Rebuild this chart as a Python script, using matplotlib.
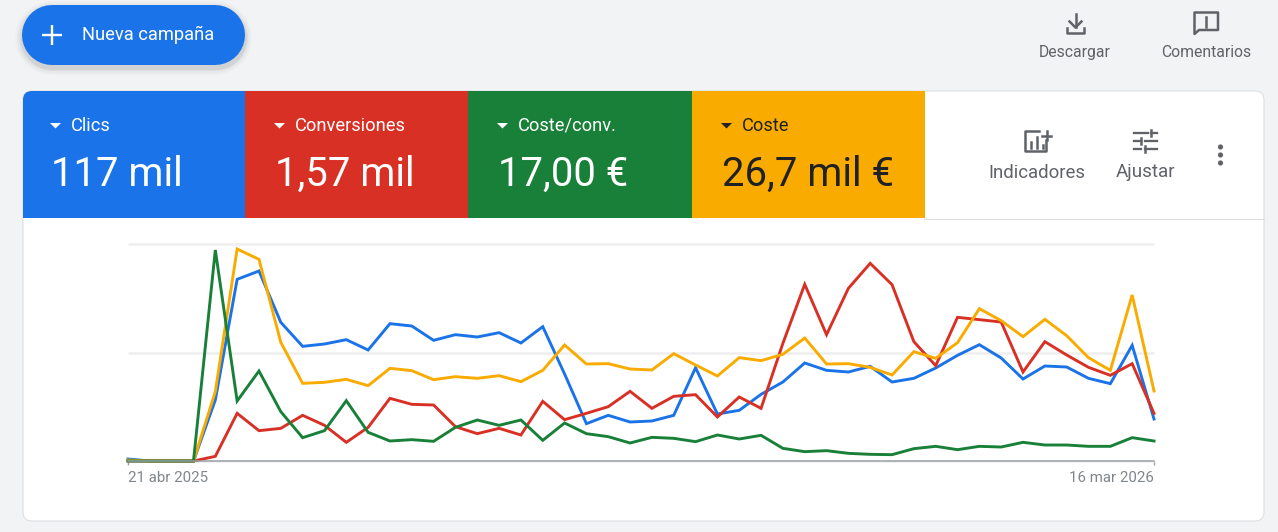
import matplotlib
matplotlib.use('Agg')
import matplotlib.pyplot as plt
from matplotlib.patches import FancyBboxPatch, Rectangle, Circle, Polygon

W, H = 1278, 532

# Weekly series, no y scale on the chart so values are relative heights
clics = [6, 0, 0, 0, 183, 545, 570, 416, 344, 351, 364, 333, 412, 405, 362, 379,
         372, 385, 354, 403, 261, 112, 137, 117, 120, 137, 280, 141, 152, 200, 237, 294,
         272, 267, 284, 237, 248, 279, 317, 349, 309, 246, 285, 282, 248, 232, 347, 126]
conversiones = [0, 0, 0, 0, 14, 143, 91, 98, 137, 107, 56, 101, 188, 170, 168, 103,
                82, 98, 78, 179, 124, 143, 163, 209, 158, 194, 199, 132, 192, 158, 353, 530,
                379, 518, 593, 529, 358, 286, 431, 424, 417, 267, 358, 318, 281, 257, 292, 143]
coste = [3, 0, 0, 0, 208, 636, 605, 356, 233, 236, 245, 226, 278, 271, 244, 253,
         248, 256, 238, 272, 348, 291, 292, 276, 273, 322, 288, 255, 310, 301, 320, 369,
         291, 292, 281, 258, 328, 308, 355, 457, 421, 373, 425, 376, 310, 272, 498, 210]
coste_conv = [0, 0, 0, 0, 633, 180, 270, 148, 70, 91, 181, 86, 60, 64, 59, 101,
              123, 107, 123, 62, 114, 82, 73, 54, 71, 68, 58, 78, 66, 77, 38, 28,
              31, 23, 20, 19, 37, 44, 34, 44, 42, 56, 48, 48, 44, 44, 70, 60]

tile_names = ['Clics', 'Conversiones', 'Coste/conv.', 'Coste']
tile_values = ['117 mil', '1,57 mil', '17,00 €', '26,7 mil €']
x_labels = ['21 abr 2025', '16 mar 2026']
y_ticks = [0, 325.5, 651]

BLUE, RED, GREEN, YELLOW = '#1a73e8', '#d93025', '#188038', '#f9ab00'
GREY = '#5f6368'
BG = '#f1f3f5'

plt.rcParams['font.family'] = ['Roboto', 'DejaVu Sans']


def pt(px):
    return px * 72 / 100


fig = plt.figure(figsize=(W / 100, H / 100), dpi=100, facecolor=BG)

# UI layer in pixel coordinates
ui = fig.add_axes([0, 0, 1, 1])
ui.set_xlim(0, W)
ui.set_ylim(H, 0)
ui.axis('off')

# ── button ──
for grow, a in [(14, 0.025), (10, 0.035), (6, 0.05), (3, 0.07)]:
    ui.plot([52, 215], [38, 38], color='#3c4043', alpha=a, lw=pt(60 + grow),
            solid_capstyle='round')
ui.plot([52, 215], [35, 35], color=BLUE, lw=pt(60), solid_capstyle='round')
ui.plot([42, 62], [35, 35], color='white', lw=pt(2.4), solid_capstyle='butt')
ui.plot([52, 52], [25, 45], color='white', lw=pt(2.4), solid_capstyle='butt')
ui.text(82, 34.5, 'Nueva campaña', color='white', fontsize=pt(18.3),
        va='center', ha='left')

# ── top right icons ──
ui.plot([1075.5, 1075.5], [14, 27], color=GREY, lw=pt(2.5))
ui.plot([1069.5, 1075.5, 1081.5], [21.5, 27.5, 21.5], color=GREY, lw=pt(2.5))
ui.plot([1067, 1067, 1084, 1084], [28, 32.5, 32.5, 28], color=GREY, lw=pt(2.5), solid_joinstyle='round')
ui.add_patch(Polygon([(1194.5, 12.5), (1218, 12.5), (1218, 30), (1199, 30), (1194.5, 34)],
                     closed=True, fc='none', ec=GREY, lw=pt(2.5), joinstyle='round'))
ui.plot([1206, 1206], [17, 22.5], color=GREY, lw=pt(2.5))
ui.plot([1206, 1206], [24.5, 27], color=GREY, lw=pt(2.5))
ui.text(1075, 52.5, 'Descargar', color=GREY, fontsize=pt(15.7), ha='center', va='center')
ui.text(1206, 52.5, 'Comentarios', color=GREY, fontsize=pt(15.7), ha='center', va='center')

# ── card ──
card = FancyBboxPatch((23, 91), 1241, 430, boxstyle='round,pad=0,rounding_size=9',
                      fc='white', ec='#dadce0', lw=pt(1))
ui.add_patch(card)

tile_edges = [23, 245, 468, 692, 924.5]
tile_origin = [22, 246, 469, 693]
tile_colors = [BLUE, RED, GREEN, YELLOW]
tile_text = ['white', 'white', 'white', '#202124']
for i, name in enumerate(tile_names):
    x0, x1 = tile_edges[i], tile_edges[i + 1]
    r = Rectangle((x0, 91), x1 - x0, 127, fc=tile_colors[i], ec='none')
    ui.add_patch(r)
    r.set_clip_path(card)
    c = tile_text[i]
    t0 = tile_origin[i]
    ui.add_patch(Polygon([(t0 + 28, 123), (t0 + 39, 123), (t0 + 33.5, 128.5)], closed=True, fc=c, ec='none'))
    ui.text(t0 + 49, 126, name, color=c, fontsize=pt(18.3), ha='left', va='center')
    ui.text(t0 + 29, 174, tile_values[i], color=c, fontsize=pt(40), ha='left', va='center')
ui.plot([924, 1264], [218.5, 218.5], color='#dadce0', lw=pt(1))

# ── right side controls ──
ui.plot([1039, 1025, 1025, 1045.5, 1045.5], [131, 131, 151, 151, 140],
        color=GREY, lw=pt(2.5), solid_joinstyle='round')
ui.plot([1031, 1031], [142, 148], color=GREY, lw=pt(2.5))
ui.plot([1037, 1037], [137, 148], color=GREY, lw=pt(2.5))
ui.plot([1043, 1043], [145, 148], color=GREY, lw=pt(2.5))
ui.plot([1042, 1051], [135.5, 135.5], color=GREY, lw=pt(2.5))
ui.plot([1046.5, 1046.5], [131, 140], color=GREY, lw=pt(2.5))
ui.text(1037, 173, 'Indicadores', color=GREY, fontsize=pt(18.7), ha='center', va='center')

slider_rows = [(133, 1134, 1148, 1151, 1157), (141, 1134, 1141, 1145, 1157), (148.5, 1134, 1141, 1145, 1157)]
for y, a0, a1, b0, b1 in slider_rows:
    ui.plot([a0, a1], [y, y], color=GREY, lw=pt(2.3))
    ui.plot([b0, b1], [y, y], color=GREY, lw=pt(2.3))
ui.plot([1151, 1151], [130, 136], color=GREY, lw=pt(2.5))
ui.plot([1141, 1141], [138, 144], color=GREY, lw=pt(2.5))
ui.plot([1145, 1145], [146, 152], color=GREY, lw=pt(2.5))
ui.text(1145.5, 172, 'Ajustar', color=GREY, fontsize=pt(18.9), ha='center', va='center')

for y in [147, 155, 163]:
    ui.add_patch(Circle((1220.5, y), 2.6, fc=GREY, ec='none'))

# ── line chart ──
ax = fig.add_axes([128 / W, (H - 461) / H, 1026 / W, 217 / H])
ax.patch.set_alpha(0)
ax.set_xlim(0, 47)
ax.set_ylim(0, 651)
for s in ['top', 'left', 'right']:
    ax.spines[s].set_visible(False)
ax.spines['bottom'].set_color('#9aa0a6')
ax.spines['bottom'].set_linewidth(pt(1.5))
ax.set_yticks(y_ticks)
ax.set_yticklabels([])
ax.tick_params(axis='y', length=0)
ax.grid(axis='y', color='#eeeeee', lw=pt(2.5), clip_on=False, solid_capstyle='butt')
ax.set_axisbelow(True)

weeks = list(range(len(clics)))
for vals, col in [(clics, BLUE), (conversiones, RED), (coste, YELLOW), (coste_conv, GREEN)]:
    ax.plot(weeks, vals, color=col, lw=pt(2.9), solid_joinstyle='miter', clip_on=False)

ax.set_xticks([0, 47])
ax.set_xticklabels(x_labels, color='#80868b', fontsize=pt(15))
ax.get_xticklabels()[0].set_ha('left')
ax.get_xticklabels()[1].set_ha('right')
ax.tick_params(axis='x', length=3, width=1, color='#9aa0a6', pad=4)

fig.savefig('out.png', dpi=100, facecolor=BG)
